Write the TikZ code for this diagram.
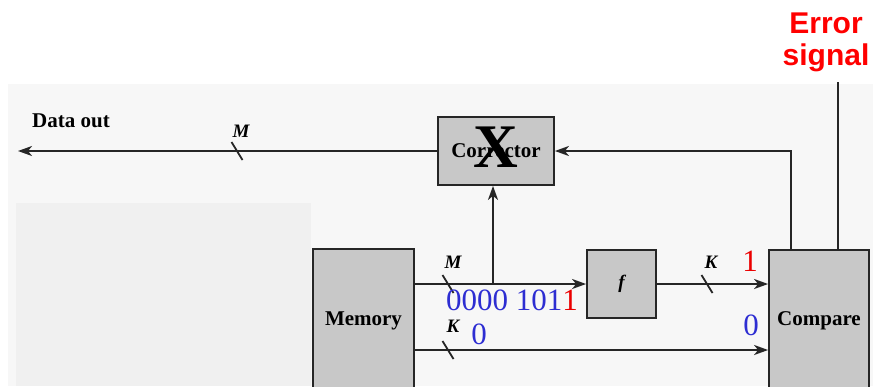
\documentclass[tikz,border=0pt]{standalone}
\usepackage{fontspec}
\setmainfont{Liberation Serif}
\newfontfamily\errfont{Liberation Sans}
\usetikzlibrary{arrows.meta}
\definecolor{scan}{RGB}{247,247,247}
\definecolor{patch}{RGB}{240,240,240}
\definecolor{boxgray}{RGB}{200,200,200}
\definecolor{bitblue}{RGB}{45,45,210}
\definecolor{bitred}{RGB}{235,0,0}

\begin{document}
\begin{tikzpicture}[x=1pt,y=-1pt,
	blk/.style={draw=black!85,line width=1.8pt,fill=boxgray,inner sep=0pt,font=\bfseries\fontsize{21}{21}\selectfont},
	wire/.style={line width=1.8pt,draw=black!85},
	sig/.style={wire,-{Stealth[length=14pt,width=10pt,inset=4pt]}},
	lbl/.style={inner sep=0pt,font=\bfseries\itshape\fontsize{19}{19}\selectfont},
	bits/.style={inner sep=0pt,font=\fontsize{31}{31}\selectfont}]
		\clip (0,0) rectangle (873,386);
		\fill[scan] (8,84) rectangle (873,386);
		\fill[patch] (16,203) rectangle (311,386);
		\node[blk,minimum width=116pt,minimum height=68pt] (corr) at (496,151) {Corrector};
		\node[blk,minimum width=101pt,minimum height=143pt] (mem) at (363.5,320.5) {Memory};
		\node[blk,minimum width=69pt,minimum height=68pt,font=\bfseries\itshape\fontsize{19}{19}\selectfont] (fun) at (621.5,284) {f};
		\node[blk,minimum width=100pt,minimum height=142pt] (cmp) at (819,321) {Compare};
		\node[inner sep=0pt,font=\bfseries\fontsize{62}{62}\selectfont] (cross) at (496,147) {X};
		\coordinate (dout) at (18,151);
		\coordinate (tap) at (493,284);
		\coordinate (err) at (838,82);
		\draw[sig] (corr.west) -- (dout);
		\draw[sig] (mem.east |- fun.west) -- (fun.west);
		\draw[sig] (tap) -- (tap |- corr.south);
		\draw[sig] (fun.east) -- (fun.east -| cmp.west);
		\draw[sig] (mem.east |- 0,350) -- (cmp.west |- 0,350);
		\draw[sig] (cmp.north -| 791,0) |- (corr.east);
		\draw[wire] (cmp.north -| err) -- (err);
		\foreach \x/\y in {237/151, 448/284, 448/350, 707/284}
			\draw[wire] (\x-5.5,\y-9) -- (\x+5.5,\y+9);
		\node[inner sep=0pt,font=\bfseries\fontsize{21}{21}\selectfont] (dlbl) at (71,121) {Data out};
		\node[lbl] (mout) at (241,131) {M};
		\node[lbl] (mmem) at (453,262) {M};
		\node[lbl] (kmem) at (453,326) {K};
		\node[lbl] (kfun) at (711,262) {K};
		\node[bits,text=bitblue] (word) at (512,300) {0000 101\textcolor{bitred}{1}};
		\node[bits,text=bitblue] (zlow) at (479,334) {0};
		\node[bits,text=bitred] (ofun) at (750,261) {1};
		\node[bits,text=bitblue] (ocmp) at (751,325) {0};
		\node[inner sep=0pt,align=center,text=red,font=\errfont\bfseries\fontsize{30}{32}\selectfont] (errlbl) at (826,42) {Error\\signal};
	\end{tikzpicture}
\end{document}
